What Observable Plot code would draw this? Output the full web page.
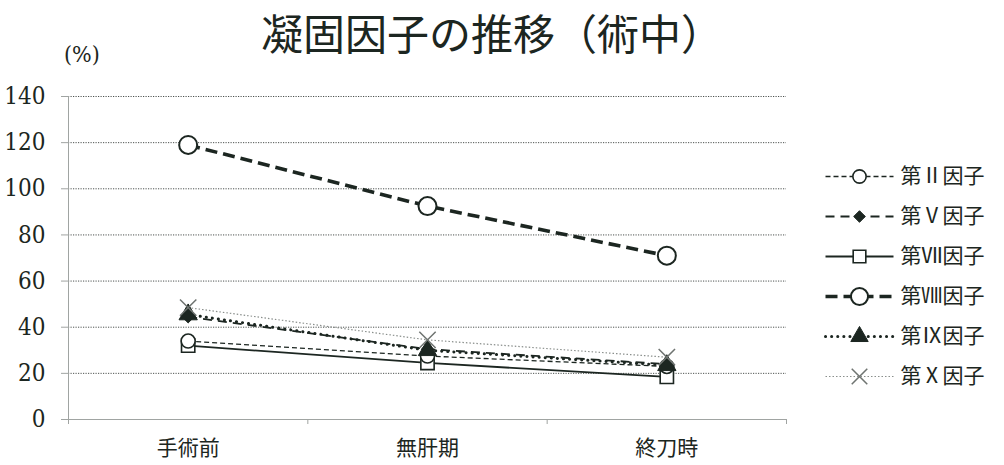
<!DOCTYPE html>
<html>
<head>
<meta charset="utf-8">
<script src="https://cdn.jsdelivr.net/npm/d3@7"></script>
<script src="https://cdn.jsdelivr.net/npm/@observablehq/plot@0.6"></script>
<style>
  body { margin: 0; background: #fff; }
  #wrap { position: relative; width: 1004px; height: 465px; overflow: hidden; background: #fff; }
  #title { position: absolute; left: 0; width: 984px; top: 9px; text-align: center;
           font-family: "Noto Sans CJK JP", sans-serif; font-size: 42px; line-height: 46px; color: #1c2621; }
  #unit { position: absolute; left: 64px; top: 41px; font-family: "DejaVu Serif Condensed", "DejaVu Serif", serif; font-size: 23px; color: #1c2621; }
  #chart { position: absolute; left: 0; top: 0; }
  #legend { position: absolute; left: 810px; top: 150px; }
  #chart svg g[aria-label="y-axis tick label"] { font-family: "DejaVu Serif Condensed", "DejaVu Serif", serif !important; }
</style>
</head>
<body>
<div id="wrap">
  <div id="chart"></div>
  <div id="legend"></div>
  <div id="title">凝固因子の推移（術中）</div>
  <div id="unit">(%)</div>
</div>
<script>
// ---- data ----
const categories = ["手術前", "無肝期", "終刀時"];
const factors = ["第Ⅱ因子", "第Ⅴ因子", "第Ⅶ因子", "第Ⅷ因子", "第Ⅸ因子", "第Ⅹ因子"];
const factorII   = [34, 27.5, 23];
const factorV    = [44.5, 30.5, 24];
const factorVII  = [32, 24.5, 18.5];
const factorVIII = [119, 92.5, 71];
const factorIX   = [45.5, 30, 23.5];
const factorX    = [48.5, 34.5, 27];
const yTicks = [0, 20, 40, 60, 80, 100, 120, 140];

const seriesValues = [factorII, factorV, factorVII, factorVIII, factorIX, factorX];

// ---- styles ----
const ink = "#1c2621";
const styles = [
  {stroke: ink, strokeWidth: 1.3, dash: "5,3", symbol: "circle", r: 7, fill: "#fff", dotStroke: ink, dotWidth: 1.6, cap: "butt"},
  {stroke: ink, strokeWidth: 1.8, dash: "9,6", symbol: "diamond2", r: 5.5, fill: ink, dotStroke: ink, dotWidth: 1, cap: "butt"},
  {stroke: ink, strokeWidth: 1.8, dash: null, symbol: "square", r: 7.5, fill: "#fff", dotStroke: ink, dotWidth: 1.6, cap: "butt"},
  {stroke: ink, strokeWidth: 3.6, dash: "12,6", symbol: "circle", r: 9, fill: "#fff", dotStroke: ink, dotWidth: 2, cap: "butt"},
  {stroke: ink, strokeWidth: 3, dash: "0.1,6", symbol: "triangle", r: 6.8, fill: ink, dotStroke: ink, dotWidth: 1, cap: "round"},
  {stroke: "#8a8f8c", strokeWidth: 1.2, dash: "1.5,2", symbol: "times", r: 7.5, fill: "none", dotStroke: "#6f7471", dotWidth: 1.5, cap: "butt"}
];

const rows = factors.flatMap((f, i) => categories.map((c, j) => ({factor: f, si: i, cat: c, x: j + 0.5, value: seriesValues[i][j]})));
const catTicks = categories.map((c, j) => j + 0.5);
const boundaryTicks = d3.range(categories.length + 1);

const order = [2, 0, 1, 4, 5, 3];
const marks = [
  Plot.ruleY(yTicks.filter(d => d > 0), {x1: 0, x2: categories.length, stroke: "#3a403d", strokeWidth: 0.9, strokeDasharray: "1.2,1.3"}),
  Plot.ruleX([0], {y1: 0, y2: 140, stroke: "#a0a4a2", strokeWidth: 1}),
  Plot.ruleY([0], {x1: 0, x2: categories.length, stroke: "#a0a4a2", strokeWidth: 1}),
  Plot.axisY({ticks: yTicks, tickSize: 7, tickPadding: 16, fontSize: 24, fontFamily: "DejaVu Serif Condensed", stroke: "#a0a4a2", fill: ink, label: null, tickFormat: d => String(d)}),
  Plot.axisX({ticks: boundaryTicks, tickSize: 5, tickFormat: () => "", stroke: "#a0a4a2", label: null}),
  Plot.axisX({ticks: catTicks, tickSize: 0, tickPadding: 21, fontSize: 21, fontFamily: "Noto Sans CJK JP", fill: ink, label: null,
              tickFormat: d => categories[Math.round(d - 0.5)]})
];
for (const i of order) {
  const s = styles[i];
  const data = rows.filter(d => d.si === i);
  marks.push(Plot.line(data, {x: "x", y: "value", stroke: s.stroke, strokeWidth: s.strokeWidth, strokeDasharray: s.dash, strokeLinecap: s.cap}));
}
for (const i of order) {
  const s = styles[i];
  const data = rows.filter(d => d.si === i);
  marks.push(Plot.dot(data, {x: "x", y: "value", symbol: () => s.symbol, r: s.r, fill: s.fill, stroke: s.dotStroke, strokeWidth: s.dotWidth}));
}

const chart = Plot.plot({
  width: 1004, height: 465,
  marginLeft: 68, marginRight: 218, marginTop: 96, marginBottom: 46,
  x: {type: "linear", domain: [0, categories.length]},
  y: {domain: [0, 140]},
  symbol: {type: "identity"},
  style: {background: "transparent", overflow: "visible"},
  marks
});
document.getElementById("chart").appendChild(chart);

// ---- legend ----
const legRows = factors.flatMap((f, i) => [0, 1].map(x => ({factor: f, si: i, x})));
const legMarks = [];
factors.forEach((f, i) => {
  const s = styles[i];
  legMarks.push(Plot.line(legRows.filter(d => d.si === i), {x: "x", y: "factor", stroke: s.stroke, strokeWidth: s.strokeWidth, strokeDasharray: s.dash, strokeLinecap: s.cap}));
  legMarks.push(Plot.dot([{factor: f, x: 0.5}], {x: "x", y: "factor", symbol: () => s.symbol, r: s.r * 0.95, fill: s.fill, stroke: s.dotStroke, strokeWidth: s.dotWidth}));
});
legMarks.push(Plot.text(factors, {x: () => 1, y: d => d, text: d => d, dx: 7, textAnchor: "start", fontSize: 21, fontFamily: "Noto Sans CJK JP", fill: ink}));

const legend = Plot.plot({
  width: 194, height: 250,
  marginTop: 25, marginBottom: 23, marginLeft: 0, marginRight: 0,
  x: {domain: [0, 1], range: [15, 83], axis: null},
  y: {type: "point", domain: factors, axis: null, padding: 0},
  symbol: {type: "identity"},
  style: {background: "transparent", overflow: "visible"},
  marks: legMarks
});
document.getElementById("legend").appendChild(legend);
</script>
</body>
</html>
